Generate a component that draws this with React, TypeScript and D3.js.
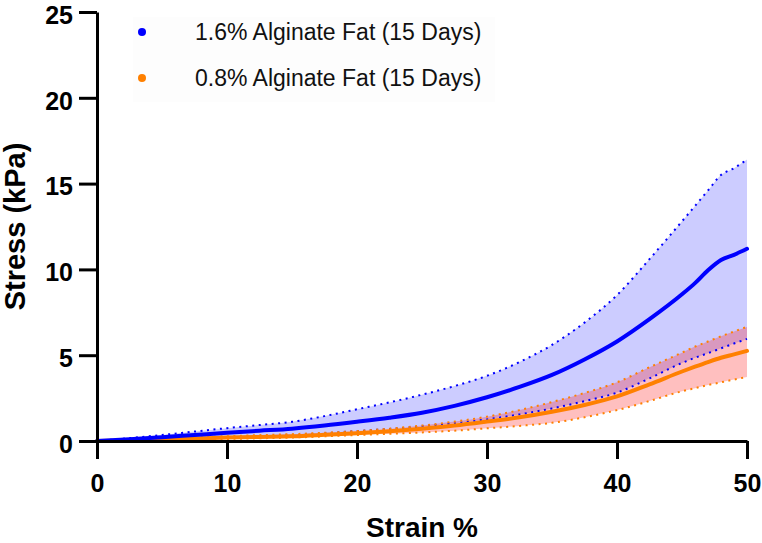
import { useRef, useEffect } from 'react';
import * as d3 from 'd3';

// Strain (%) sample points
const strain = [0, 2.5, 5, 7.5, 10, 12.5, 15, 17.5, 20, 22.5, 25, 27.5, 30, 32.5, 35, 37.5, 40, 42.5, 45, 46, 47, 48, 49, 50];

// 1.6% Alginate Fat (15 Days): mean and the dotted upper / lower band
const blueMean = [0, 0.1, 0.22, 0.35, 0.48, 0.6, 0.72, 0.9, 1.12, 1.36, 1.65, 2.05, 2.55, 3.15, 3.85, 4.75, 5.8, 7.1, 8.55, 9.2, 9.95, 10.55, 10.85, 11.2];
const blueUpper = [0, 0.17, 0.35, 0.55, 0.75, 0.93, 1.12, 1.45, 1.85, 2.25, 2.7, 3.2, 3.8, 4.6, 5.6, 6.9, 8.5, 10.6, 12.8, 13.7, 14.6, 15.5, 15.9, 16.4];
const blueLower = [0, 0.05, 0.1, 0.16, 0.22, 0.27, 0.33, 0.44, 0.58, 0.7, 0.85, 1.03, 1.26, 1.55, 1.9, 2.32, 2.82, 3.65, 4.55, 4.85, 5.12, 5.4, 5.68, 5.95];

// 0.8% Alginate Fat (15 Days)
const orangeMean = [0, 0.04, 0.08, 0.14, 0.2, 0.24, 0.28, 0.36, 0.45, 0.57, 0.72, 0.9, 1.13, 1.38, 1.7, 2.1, 2.6, 3.3, 4.05, 4.33, 4.6, 4.85, 5.05, 5.25];
const orangeUpper = [0, 0.06, 0.12, 0.2, 0.28, 0.34, 0.4, 0.48, 0.58, 0.72, 0.9, 1.13, 1.42, 1.8, 2.27, 2.8, 3.42, 4.3, 5.15, 5.5, 5.8, 6.1, 6.38, 6.65];
const orangeLower = [0, 0.03, 0.05, 0.09, 0.12, 0.16, 0.2, 0.27, 0.35, 0.42, 0.5, 0.6, 0.74, 0.88, 1.06, 1.38, 1.8, 2.33, 2.9, 3.08, 3.26, 3.42, 3.58, 3.73];

const xTicks = [0, 10, 20, 30, 40, 50];
const yTicks = [0, 5, 10, 15, 20, 25];

const series = [
  { name: '1.6% Alginate Fat (15 Days)', mean: blueMean, upper: blueUpper, lower: blueLower, line: '#0000ff', fill: 'rgba(0,0,255,0.2)' },
  { name: '0.8% Alginate Fat (15 Days)', mean: orangeMean, upper: orangeUpper, lower: orangeLower, line: '#ff8000', fill: 'rgba(255,0,0,0.25)' },
];

const W = 762;
const H = 543;
const FONT = '"Liberation Sans", Arial, sans-serif';

export default function App() {
  const ref = useRef<SVGSVGElement>(null);

  useEffect(() => {
    if (!ref.current) return;
    const svg = d3.select(ref.current);
    svg.selectAll('*').remove();

    const x = d3.scaleLinear().domain([0, 50]).range([97, 747]);
    const y = d3.scaleLinear().domain([0, 25]).range([441, 12]);

    // legend background (barely visible)
    svg.append('rect')
      .attr('x', 133).attr('y', 17).attr('width', 362).attr('height', 85)
      .attr('fill', '#fdfdfd');

    // bands
    const area = (up: number[], lo: number[]) => d3.area<number>()
      .x(i => x(strain[i]))
      .y0(i => y(lo[i]))
      .y1(i => y(up[i]))
      .curve(d3.curveMonotoneX)(d3.range(strain.length));

    series.forEach(s => {
      svg.append('path').attr('d', area(s.upper, s.lower)).attr('fill', s.fill);
    });

    const line = (vals: number[]) => d3.line<number>()
      .x(i => x(strain[i]))
      .y(i => y(vals[i]))
      .curve(d3.curveMonotoneX)(d3.range(strain.length));

    // dotted band edges
    series.forEach(s => {
      [s.upper, s.lower].forEach(v => {
        svg.append('path')
          .attr('d', line(v))
          .attr('fill', 'none')
          .attr('stroke', s.line)
          .attr('stroke-width', 2)
          .attr('stroke-dasharray', '2,4.5');
      });
    });

    // mean curves (orange first, blue on top near origin)
    [series[1], series[0]].forEach(s => {
      svg.append('path')
        .attr('d', line(s.mean))
        .attr('fill', 'none')
        .attr('stroke', s.line)
        .attr('stroke-width', 4)
        .attr('stroke-linecap', 'round');
    });

    // axes
    const gx = svg.append('g').attr('transform', `translate(0,${y(0)})`)
      .call(d3.axisBottom(x).tickValues(xTicks).tickSize(18).tickPadding(15).tickSizeOuter(0));
    const gy = svg.append('g').attr('transform', `translate(${x(0)},0)`)
      .call(d3.axisLeft(y).tickValues(yTicks).tickSize(18).tickPadding(6).tickSizeOuter(0));

    [gx, gy].forEach(g => {
      g.select('.domain').attr('stroke', '#000').attr('stroke-width', 3);
      g.selectAll('.tick line').attr('stroke', '#000').attr('stroke-width', 3);
      g.selectAll('.tick text')
        .attr('fill', '#000')
        .style('font-family', FONT)
        .style('font-size', '25px')
        .style('font-weight', 'bold');
    });
    // nudge the y labels down a touch so "25" stays inside the frame
    gy.selectAll('.tick text').attr('dy', '0.45em');

    // axis titles
    svg.append('text')
      .attr('x', (x(0) + x(50)) / 2).attr('y', 537)
      .attr('text-anchor', 'middle')
      .style('font-family', FONT).style('font-size', '28px').style('font-weight', 'bold')
      .text('Strain %');

    svg.append('text')
      .attr('transform', `translate(25,${(y(0) + y(25)) / 2}) rotate(-90)`)
      .attr('text-anchor', 'middle')
      .style('font-family', FONT).style('font-size', '29px').style('font-weight', 'bold')
      .text('Stress (kPa)');

    // legend
    series.forEach((s, i) => {
      const cy = 32 + i * 46;
      svg.append('circle').attr('cx', 142).attr('cy', cy).attr('r', 4).attr('fill', s.line);
      svg.append('text')
        .attr('x', 195).attr('y', cy + 8)
        .style('font-family', FONT).style('font-size', '23px')
        .attr('fill', '#111')
        .text(s.name);
    });
  }, []);

  return (
    <div style={{ position: 'absolute', left: 0, top: 0 }}>
      <svg ref={ref} width={W} height={H} style={{ display: 'block', background: '#fff' }} />
    </div>
  );
}
